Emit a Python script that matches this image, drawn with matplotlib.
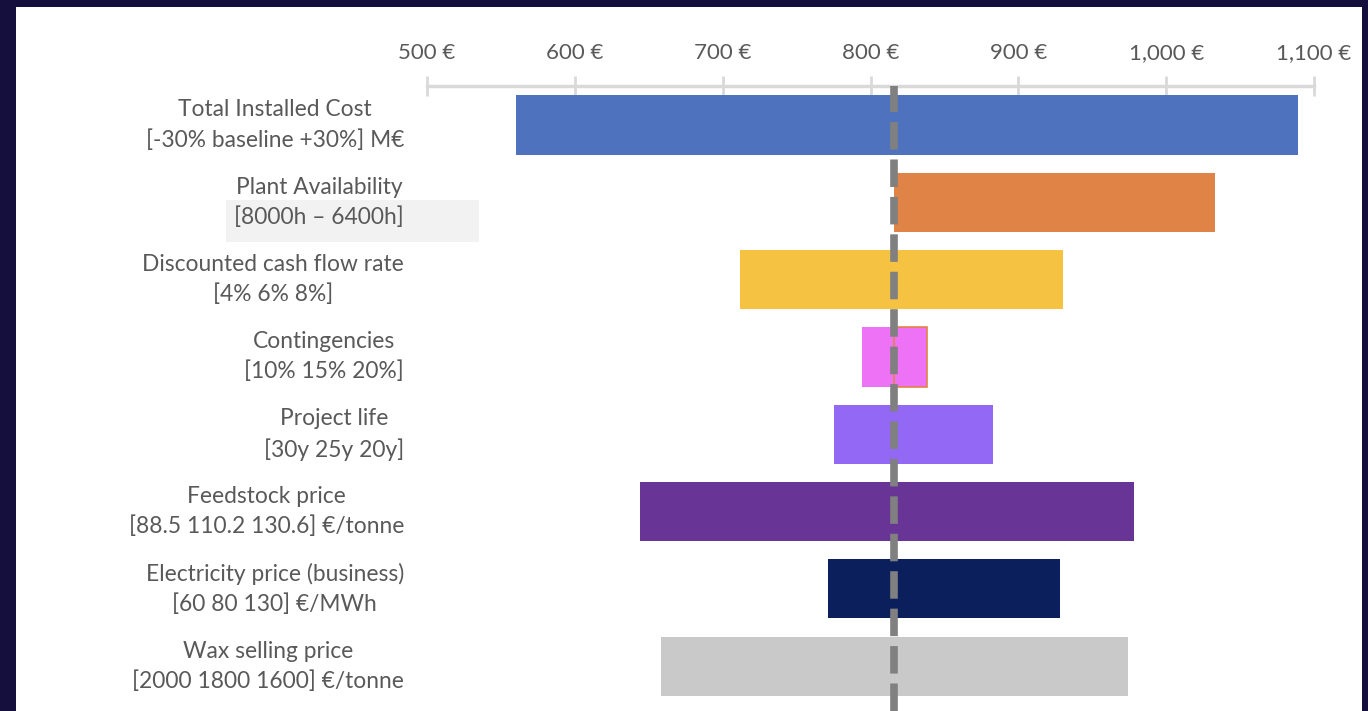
import matplotlib
matplotlib.use("Agg")
import matplotlib.pyplot as plt
from matplotlib.patches import Rectangle
from matplotlib.ticker import FuncFormatter
from matplotlib.transforms import blended_transform_factory

# ---- data ----
labels = [
    "Total Installed Cost\n[-30% baseline +30%] M€",
    "Plant Availability\n[8000h – 6400h]",
    "Discounted cash flow rate\n[4% 6% 8%]",
    "Contingencies\n[10% 15% 20%]",
    "Project life\n[30y 25y 20y]",
    "Feedstock price\n[88.5 110.2 130.6] €/tonne",
    "Electricity price (business)\n[60 80 130] €/MWh",
    "Wax selling price\n[2000 1800 1600] €/tonne",
]
baseline = 816
low_values = [560, 816, 712, 794, 775, 644, 771, 658]
high_values = [1089, 1033, 930, 838, 883, 978, 928, 974]
colors = ["#4f72be", "#e08347", "#f5c242", "#ee72f5",
          "#9368f4", "#683495", "#0b1f5c", "#c9c9c9"]
xticks = [500, 600, 700, 800, 900, 1000, 1100]

W, H = 1368, 711
fig = plt.figure(figsize=(W / 100, H / 100), dpi=100)
fig.patch.set_facecolor("#140f3d")

# background axes for white panel and grey highlight box
bg = fig.add_axes([0, 0, 1, 1], zorder=0)
bg.set_xlim(0, W)
bg.set_ylim(H, 0)
bg.axis("off")
bg.add_patch(Rectangle((16, 7), 1362 - 16, H - 7, facecolor="white",
                       edgecolor="none"))
bg.add_patch(Rectangle((226, 200), 479 - 226, 42, facecolor="#f2f2f2",
                       edgecolor="none"))

ax_left, ax_right = 427, 1314
ax_top, ax_bottom = 86, 711
ax = fig.add_axes([ax_left / W, 1 - ax_bottom / H, (ax_right - ax_left) / W,
                   (ax_bottom - ax_top) / H], zorder=1)
ax.set_facecolor("none")

font = "Lato"
txt_color = "#595959"

n = len(labels)
ys = list(range(n))
bh = 0.765
for i in ys:
    lo, hi = low_values[i], high_values[i]
    ax.barh(i, baseline - lo, left=lo, height=bh, color=colors[i],
            edgecolor="none", zorder=2)
    ec = "#e08347" if i == 3 else "none"
    ax.barh(i, hi - baseline, left=baseline, height=bh, color=colors[i],
            edgecolor=ec, linewidth=1.2, zorder=2)

ax.axvline(baseline, color="#808080", lw=5.5, ls=(0, (3.6, 1.3)), zorder=3)

ax.set_xlim(500, 1100)
ax.set_ylim(n - 1 + 0.58, -0.505)
ax.xaxis.tick_top()
ax.set_xticks(xticks)
ax.xaxis.set_major_formatter(FuncFormatter(lambda v, p: f"{v:,.0f} €"))
ax.tick_params(axis="x", direction="inout", length=15, width=2,
               color="#d9d9d9", labelcolor=txt_color, labelsize=16, pad=9)
for lab in ax.get_xticklabels():
    lab.set_fontfamily(font)
ax.set_yticks([])
for s in ["left", "right", "bottom"]:
    ax.spines[s].set_visible(False)
ax.spines["top"].set_color("#d9d9d9")
ax.spines["top"].set_linewidth(2.5)

label_x = (404 - ax_left) / (ax_right - ax_left)
trans = blended_transform_factory(ax.transAxes, ax.transData)
for i, lab in enumerate(labels):
    ax.text(label_x, i, lab, transform=trans, clip_on=False,
            ha="right", va="center", multialignment="center",
            fontsize=16.4, color=txt_color, family=font, linespacing=1.48)

fig.savefig("out.png", dpi=100, facecolor=fig.get_facecolor())
